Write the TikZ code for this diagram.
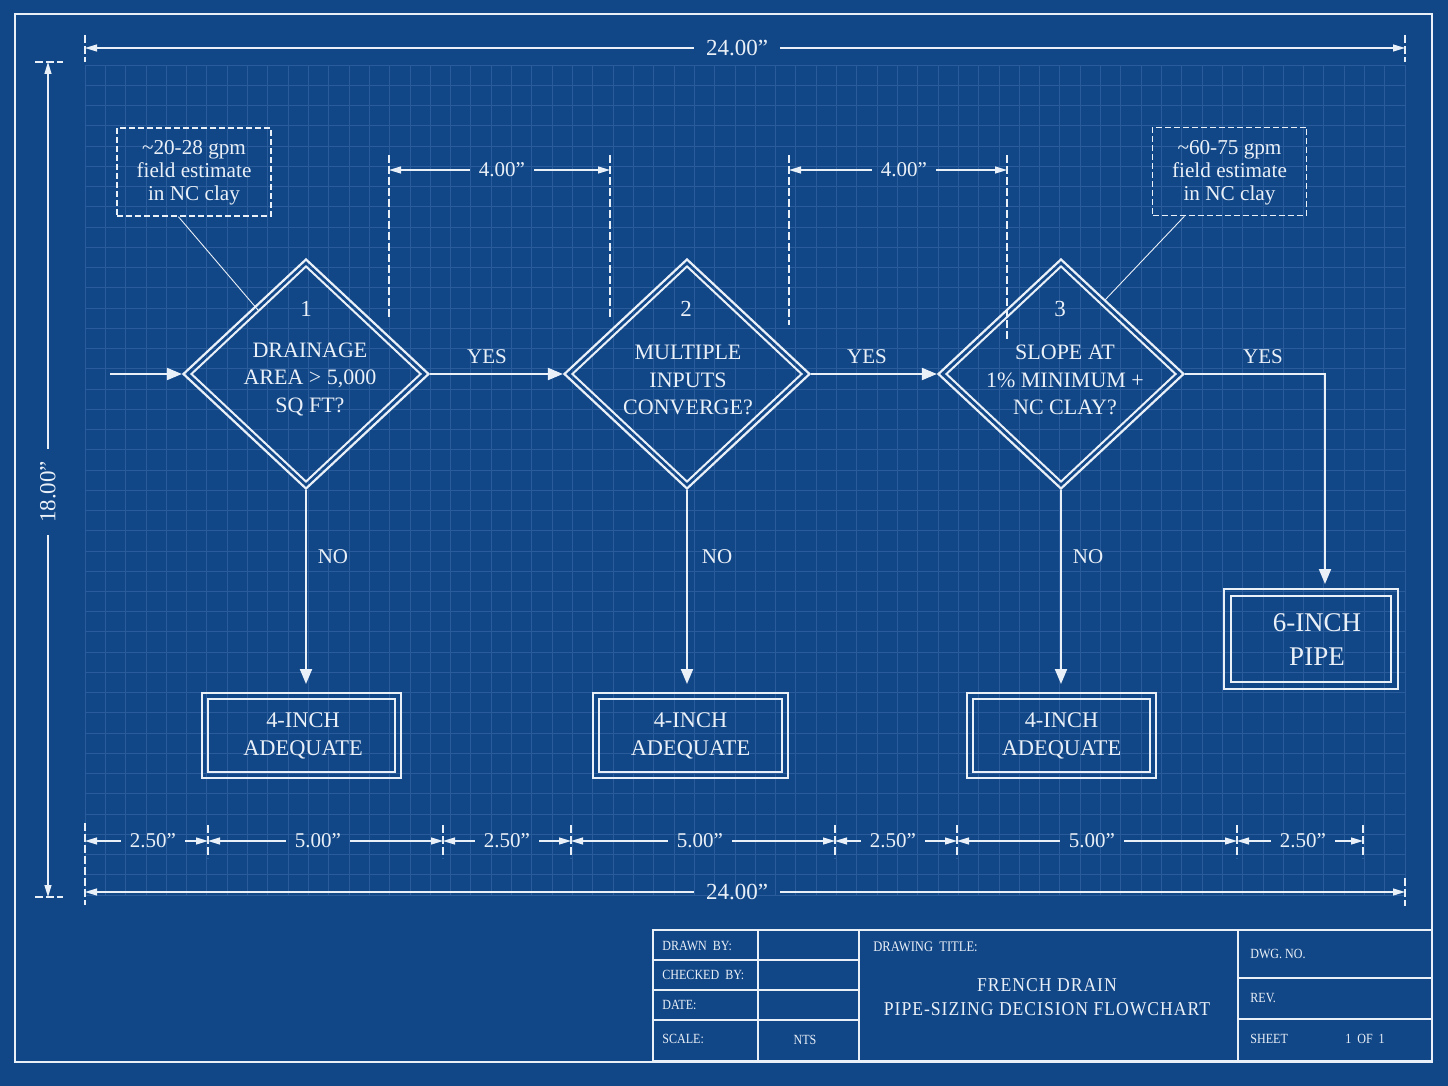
\documentclass[tikz,border=0pt]{standalone}
\usepackage{fontspec}
\setmainfont{Liberation Serif}
\newfontfamily\tbfont[FakeStretch=0.86]{Liberation Serif}
\newfontfamily\tbtitle[FakeStretch=0.9,LetterSpace=5]{Liberation Serif}
\usetikzlibrary{arrows.meta,calc,shapes.geometric}
\definecolor{bp}{HTML}{114687}
\definecolor{gridc}{HTML}{2A5C9C}
\definecolor{ink}{HTML}{EAF0F7}
\begin{document}
\begin{tikzpicture}[x=0.5pt,y=-0.5pt,
  every node/.style={text=ink},
  flow/.style={draw=ink,line width=1pt,-{Triangle[length=7.5pt,width=6pt]}},
  dimarr/.style={draw=ink,line width=0.6pt,-{Triangle[length=6pt,width=3.5pt]}},
  ext/.style={draw=ink,line width=0.6pt,dash pattern=on 4pt off 1.5pt},
  gridline/.style={draw=gridc,line width=0.35pt},
  dec/.style={diamond,draw=ink,line width=1.1pt,minimum width=123pt,minimum height=115pt,inner sep=0pt},
  decin/.style={diamond,draw=ink,line width=1pt,minimum width=115pt,minimum height=108pt,inner sep=0pt},
  dtext/.style={align=center,font=\fontsize{11}{13.75}\selectfont,inner sep=0pt},
  numtext/.style={font=\fontsize{11.5}{13}\selectfont,inner sep=0pt},
  outbox/.style={draw=ink,line width=1pt,rectangle,inner sep=0pt},
  inbox/.style={draw=ink,line width=1pt,rectangle,inner sep=0pt},
  btext/.style={align=center,inner sep=0pt,font=\fontsize{11.2}{14}\selectfont},
  note/.style={draw=ink,line width=0.75pt,dash pattern=on 3pt off 1.5pt,minimum width=77pt,minimum height=44pt,inner sep=0pt},
  ntext/.style={align=center,inner sep=0pt,font=\fontsize{10.6}{11.6}\selectfont},
  leader/.style={draw=ink,line width=0.45pt},
  yn/.style={font=\fontsize{10.5}{12}\selectfont,inner sep=1pt},
  dimlbl/.style={font=\fontsize{10.5}{12}\selectfont,inner sep=4.5pt},
  biglbl/.style={font=\fontsize{11.5}{13}\selectfont,inner sep=6pt},
  tbl/.style={font=\tbfont\fontsize{7}{8}\selectfont,anchor=west,inner sep=0pt},
  tline/.style={draw=ink,line width=0.75pt}
]
% background
\fill[bp] (0,0) rectangle (1448,1086);
\useasboundingbox (0,0) rectangle (1448,1086);
% grid
\foreach \i in {0,...,65} \draw[gridline] ({85+\i*20.3077},65) -- ({85+\i*20.3077},895);
\foreach \j in {0,...,41} \draw[gridline] (85,{65+\j*20.244}) -- (1405,{65+\j*20.244});
% frame
\draw[draw=ink,line width=1pt] (15,14) rectangle (1432,1062);

% ---- top overall dimension
\coordinate (tl) at (85,48); \coordinate (tr) at (1405,48);
\node[biglbl] (top24) at (737,48) {24.00”};
\draw[dimarr] (top24) -- (tl);
\draw[dimarr] (top24) -- (tr);
\draw[ext] (85,35) -- (85,62);
\draw[ext] (1405,35) -- (1405,62);

% ---- vertical dimension
\coordinate (vt) at (48,62); \coordinate (vb) at (48,897);
\node[biglbl,rotate=90] (v18) at (48,492) {18.00”};
\draw[dimarr] (v18) -- (vt);
\draw[dimarr] (v18) -- (vb);
\draw[ext] (35,62) -- (63,62);
\draw[ext] (35,897) -- (63,897);

% ---- 4.00 dimensions
\coordinate (fa) at (389,170); \coordinate (fb) at (610,170);
\coordinate (fc) at (789,170); \coordinate (fd) at (1007,170);
\node[dimlbl] (f1) at (502,170) {4.00”};
\node[dimlbl] (f2) at (904,170) {4.00”};
\draw[dimarr] (f1) -- (fa); \draw[dimarr] (f1) -- (fb);
\draw[dimarr] (f2) -- (fc); \draw[dimarr] (f2) -- (fd);
\draw[ext] (389,155) -- (389,318);
\draw[ext] (610,155) -- (610,318);
\draw[ext] (789,155) -- (789,325);
\draw[ext] (1007,155) -- (1007,340);

% ---- decisions
\node[dec] (d1) at (306,374) {};
\node[decin] (d1i) at (306,374) {};
\node[numtext] (d1n) at (306,309) {1};
\node[dtext] (d1t) at (310,379) {DRAINAGE\\AREA > 5,000\\SQ FT?};

\node[dec] (d2) at (687,374) {};
\node[decin] (d2i) at (687,374) {};
\node[numtext] (d2n) at (686,309) {2};
\node[dtext] (d2t) at (688,380) {MULTIPLE\\INPUTS\\CONVERGE?};

\node[dec] (d3) at (1061,374) {};
\node[decin] (d3i) at (1061,374) {};
\node[numtext] (d3n) at (1060,309) {3};
\node[dtext] (d3t) at (1065,380) {SLOPE AT\\1\% MINIMUM +\\NC CLAY?};

% ---- outcome boxes
\node[outbox,minimum width=99.5pt,minimum height=42.5pt] (b1) at (301.5,735.5) {};
\node[inbox,minimum width=93.5pt,minimum height=36.5pt] (b1i) at (301.5,735.5) {};
\node[btext] (b1t) at (303,735.5) {4-INCH\\ADEQUATE};
\node[outbox,minimum width=97.5pt,minimum height=42.5pt] (b2) at (690.5,735.5) {};
\node[inbox,minimum width=91.5pt,minimum height=36.5pt] (b2i) at (690.5,735.5) {};
\node[btext] (b2t) at (690.5,735.5) {4-INCH\\ADEQUATE};
\node[outbox,minimum width=94.5pt,minimum height=42.5pt] (b3) at (1061.5,735.5) {};
\node[inbox,minimum width=88.5pt,minimum height=36.5pt] (b3i) at (1061.5,735.5) {};
\node[btext] (b3t) at (1061.5,735.5) {4-INCH\\ADEQUATE};
\node[outbox,minimum width=87pt,minimum height=50pt] (b4) at (1311,639) {};
\node[inbox,minimum width=80pt,minimum height=43pt] (b4i) at (1311,639) {};
\node[btext,font=\fontsize{13.5}{17}\selectfont] (b4t) at (1317,640) {6-INCH\\PIPE};

% ---- flow connectors
\coordinate (start) at (110,374);
\draw[flow] (start) -- (d1.west);
\draw[flow] (d1.east) -- (d2.west);
\draw[flow] (d2.east) -- (d3.west);
\draw[flow,shorten >=2pt] (d3.east) -| ($(b4.north)+(14,0)$);
\draw[flow,shorten >=4pt] (d1.south) -- (d1.south |- b1.north);
\draw[flow,shorten >=4pt] (d2.south) -- (d2.south |- b2.north);
\draw[flow,shorten >=4pt] (d3.south) -- (d3.south |- b3.north);
\node[yn] (y1) at (487,357) {YES};
\node[yn] (y2) at (867,357) {YES};
\node[yn] (y3) at (1263,357) {YES};
\node[yn] (n1) at (333,557) {NO};
\node[yn] (n2) at (717,557) {NO};
\node[yn] (n3) at (1088,557) {NO};

% ---- notes
\node[note] (note1) at (194,172) {};
\node[ntext] (note1t) at (194,173) {\textasciitilde20-28 gpm\\field estimate\\in NC clay};
\node[note] (note2) at (1229.5,171.5) {};
\node[ntext] (note2t) at (1229.5,173) {\textasciitilde60-75 gpm\\field estimate\\in NC clay};
\coordinate (c1) at (258,310);
\coordinate (c2) at (1105,300);
\draw[leader] ($(note1.south west)!0.4!(note1.south east)$) -- (c1);
\draw[leader] ($(note2.south west)!0.21!(note2.south east)$) -- (c2);

% ---- bottom dimensions
\foreach \x/\n in {85/t0,208/t1,443/t2,571/t3,835/t4,957/t5,1237/t6,1363/t7} {
  \coordinate (\n) at (\x,841);
}
\draw[ext] (85,823) -- (85,905);
\foreach \x in {208,443,571,835,957,1237,1363} \draw[ext] (\x,825) -- (\x,858);
\node[dimlbl] (s1) at (153,841) {2.50”};
\node[dimlbl] (s2) at (318,841) {5.00”};
\node[dimlbl] (s3) at (507,841) {2.50”};
\node[dimlbl] (s4) at (700,841) {5.00”};
\node[dimlbl] (s5) at (893,841) {2.50”};
\node[dimlbl] (s6) at (1092,841) {5.00”};
\node[dimlbl] (s7) at (1303,841) {2.50”};
\draw[dimarr] (s1) -- (t0); \draw[dimarr] (s1) -- (t1);
\draw[dimarr] (s2) -- (t1); \draw[dimarr] (s2) -- (t2);
\draw[dimarr] (s3) -- (t2); \draw[dimarr] (s3) -- (t3);
\draw[dimarr] (s4) -- (t3); \draw[dimarr] (s4) -- (t4);
\draw[dimarr] (s5) -- (t4); \draw[dimarr] (s5) -- (t5);
\draw[dimarr] (s6) -- (t5); \draw[dimarr] (s6) -- (t6);
\draw[dimarr] (s7) -- (t6); \draw[dimarr] (s7) -- (t7);
\coordinate (bl) at (85,892); \coordinate (br) at (1405,892);
\node[biglbl] (bot24) at (737,892) {24.00”};
\draw[dimarr] (bot24) -- (bl);
\draw[dimarr] (bot24) -- (br);
\draw[ext] (1405,878) -- (1405,906);

% ---- title block
\draw[tline] (653,930) rectangle (1432,1061);
\draw[tline] (758,930) -- (758,1061);
\draw[tline] (859,930) -- (859,1061);
\draw[tline] (1238,930) -- (1238,1061);
\draw[tline] (653,960) -- (859,960);
\draw[tline] (653,990) -- (859,990);
\draw[tline] (653,1020) -- (859,1020);
\draw[tline] (1238,978) -- (1432,978);
\draw[tline] (1238,1019) -- (1432,1019);
\node[tbl] (tb1) at (662,946) {DRAWN\ \ BY:};
\node[tbl] (tb2) at (662,975) {CHECKED\ \ BY:};
\node[tbl] (tb3) at (662,1005) {DATE:};
\node[tbl] (tb4) at (662,1039) {SCALE:};
\node[tbl,anchor=center] (tb5) at (805,1040) {NTS};
\node[tbl,font=\tbfont\fontsize{7.3}{8}\selectfont] (tb6) at (873,947) {DRAWING\ \ TITLE:};
\node[font=\tbtitle\fontsize{9.8}{12}\selectfont,align=center,inner sep=0pt] (tb7) at (1047,997) {FRENCH DRAIN\\PIPE-SIZING DECISION FLOWCHART};
\node[tbl] (tb8) at (1250,954) {DWG.\ NO.};
\node[tbl] (tb9) at (1250,998) {REV.};
\node[tbl] (tb10) at (1250,1039) {SHEET};
\node[tbl,anchor=center] (tb11) at (1365,1039) {1\ \ OF\ \ 1};
\end{tikzpicture}
\end{document}
